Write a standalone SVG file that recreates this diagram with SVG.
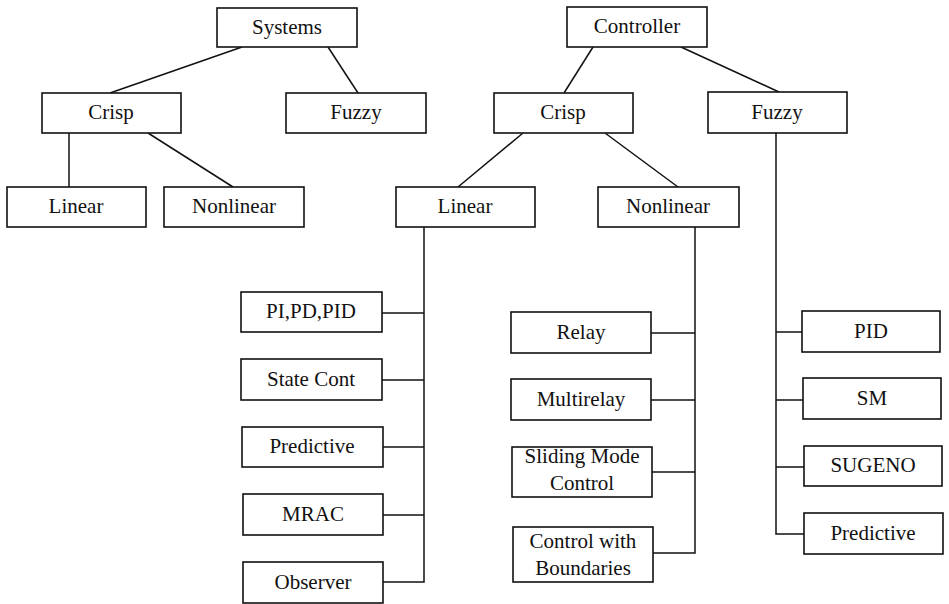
<svg xmlns="http://www.w3.org/2000/svg" width="949" height="604" viewBox="0 0 949 604" font-family="Liberation Serif, Times New Roman, serif">
<style>
rect{fill:#fff;stroke:#111;stroke-width:1.6}
text{font-family:'Liberation Serif','Times New Roman',serif;font-size:21px;fill:#111;text-anchor:middle}
#connectors line,#connectors polyline{stroke:#111;stroke-width:1.5;fill:none}
</style>
<rect x="0" y="0" width="949" height="604" style="fill:#fff;stroke:none"/>
<g id="connectors">
<line x1="242" y1="47" x2="110" y2="93"/>
<line x1="328" y1="47" x2="358" y2="93"/>
<line x1="69" y1="133" x2="69" y2="187"/>
<line x1="148" y1="133" x2="233" y2="187"/>
<line x1="593" y1="47" x2="564" y2="93"/>
<line x1="681" y1="47" x2="779" y2="92"/>
<line x1="523" y1="133" x2="458" y2="187"/>
<line x1="605" y1="133" x2="678" y2="187"/>
<polyline points="424,227 424,582 383,582"/>
<line x1="382" y1="313" x2="424" y2="313"/>
<line x1="382" y1="380" x2="424" y2="380"/>
<line x1="383" y1="447" x2="424" y2="447"/>
<line x1="383" y1="515" x2="424" y2="515"/>
<polyline points="695,227 695,553 653,553"/>
<line x1="651" y1="333" x2="695" y2="333"/>
<line x1="651" y1="400" x2="695" y2="400"/>
<line x1="652" y1="472" x2="695" y2="472"/>
<polyline points="776,133 776,534 804,534"/>
<line x1="776" y1="332" x2="802" y2="332"/>
<line x1="776" y1="400" x2="803" y2="400"/>
<line x1="776" y1="467" x2="804" y2="467"/>
</g>
<g id="systems"><rect x="217" y="8" width="140" height="39"/><text x="287" y="34">Systems</text></g>
<g id="sys-crisp"><rect x="42" y="93" width="139" height="40"/><text x="111" y="119">Crisp</text></g>
<g id="sys-fuzzy"><rect x="286" y="93" width="140" height="40"/><text x="356" y="119">Fuzzy</text></g>
<g id="sys-linear"><rect x="7" y="187" width="139" height="40"/><text x="76" y="213">Linear</text></g>
<g id="sys-nonlinear"><rect x="164" y="187" width="140" height="40"/><text x="234" y="213">Nonlinear</text></g>
<g id="controller"><rect x="567" y="7" width="140" height="40"/><text x="637" y="33">Controller</text></g>
<g id="ctl-crisp"><rect x="494" y="93" width="139" height="40"/><text x="563" y="119">Crisp</text></g>
<g id="ctl-fuzzy"><rect x="708" y="92" width="139" height="41"/><text x="777" y="119">Fuzzy</text></g>
<g id="ctl-linear"><rect x="396" y="187" width="139" height="40"/><text x="465" y="213">Linear</text></g>
<g id="ctl-nonlinear"><rect x="598" y="187" width="141" height="40"/><text x="668" y="213">Nonlinear</text></g>
<g id="pid-family"><rect x="241" y="292" width="141" height="40"/><text x="311" y="318">PI,PD,PID</text></g>
<g id="state-cont"><rect x="241" y="359" width="141" height="41"/><text x="311" y="386">State Cont</text></g>
<g id="lin-predictive"><rect x="242" y="427" width="141" height="40"/><text x="312" y="453">Predictive</text></g>
<g id="mrac"><rect x="243" y="494" width="140" height="41"/><text x="313" y="521">MRAC</text></g>
<g id="observer"><rect x="243" y="562" width="140" height="41"/><text x="313" y="589">Observer</text></g>
<g id="relay"><rect x="511" y="312" width="140" height="41"/><text x="581" y="339">Relay</text></g>
<g id="multirelay"><rect x="511" y="379" width="140" height="41"/><text x="581" y="406">Multirelay</text></g>
<g id="sliding-mode"><rect x="512" y="447" width="140" height="50"/><text x="582" y="463">Sliding Mode</text><text x="582" y="490">Control</text></g>
<g id="boundaries"><rect x="513" y="527" width="140" height="55"/><text x="583" y="548">Control with</text><text x="583" y="575">Boundaries</text></g>
<g id="fz-pid"><rect x="802" y="311" width="138" height="41"/><text x="871" y="338">PID</text></g>
<g id="fz-sm"><rect x="803" y="378" width="138" height="41"/><text x="872" y="405">SM</text></g>
<g id="fz-sugeno"><rect x="804" y="446" width="138" height="40"/><text x="873" y="472">SUGENO</text></g>
<g id="fz-predictive"><rect x="804" y="513" width="139" height="41"/><text x="873" y="540">Predictive</text></g>
</svg>
